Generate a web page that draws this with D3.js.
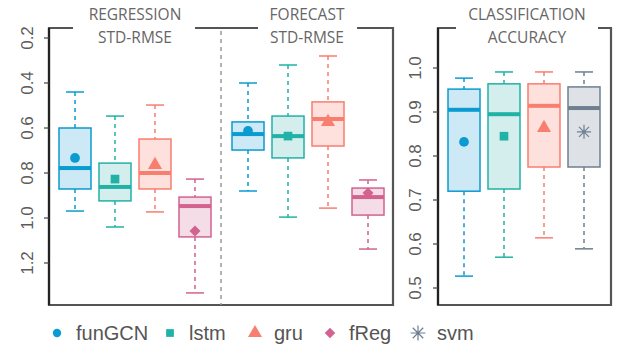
<!DOCTYPE html>
<html><head><meta charset="utf-8">
<script src="https://cdn.jsdelivr.net/npm/d3@7"></script>
<style>body{margin:0;background:#fff}svg{display:block}</style>
</head><body><svg id="c" width="619" height="350"></svg>
<script>
const methods = ["funGCN","lstm","gru","fReg","svm"];
const colors = ["#0a9bd0","#20b2a6","#f87e70","#d2628f","#6e7f90"];
const fills = ["#cce9f5","#d3eeec","#fee0dc","#f5dde7","#dee2e6"];
const shapes = ["circle","square","triangle","diamond","asterisk"];
// [lowerWhisker, q1, median, q3, upperWhisker, mean]
const regression = [
  [0.44,0.60,0.778,0.871,0.969,0.733],
  [0.547,0.756,0.862,0.924,1.04,0.827],
  [0.498,0.649,0.80,0.871,0.973,0.764],
  [0.827,0.907,0.947,1.084,1.333,1.058]
];
const forecast = [
  [0.40,0.573,0.627,0.698,0.88,0.613],
  [0.32,0.547,0.636,0.733,0.996,0.636],
  [0.28,0.484,0.56,0.68,0.956,0.573],
  [0.831,0.867,0.907,0.987,1.138,0.889]
];
const classification = [
  [0.977,0.952,0.905,0.72,0.527,0.832],
  [0.991,0.964,0.895,0.725,0.57,0.845],
  [0.991,0.964,0.914,0.775,0.614,0.864],
  [0.991,0.957,0.909,0.775,0.589,0.855]
];
const classMethods = [0,1,2,4];
const leftTicks = [0.2,0.4,0.6,0.8,1.0,1.2];
const rightTicks = [0.5,0.6,0.7,0.8,0.9,1.0];

const svg = d3.select("#c");
const yTop = 28, yBot = 305;
const yL = d3.scaleLinear().domain([0.2,1.2]).range([38,263]);
const yR = d3.scaleLinear().domain([0.5,1.0]).range([288,68]);
const xReg = d3.scalePoint().domain([0,1,2,3]).range([75,195]);
const xFor = d3.scalePoint().domain([0,1,2,3]).range([248,368]);
const xCls = d3.scalePoint().domain([0,1,2,3]).range([464,584]);
const frameCol = "#555";
const sansFont = "'Liberation Sans', Arial, sans-serif";
const titleFont = "'Open Sans', 'DejaVu Sans', sans-serif";

const symbolRDiamond = {draw(ctx,size){const r=Math.sqrt(size/2);ctx.moveTo(0,-r);ctx.lineTo(r,0);ctx.lineTo(0,r);ctx.lineTo(-r,0);ctx.closePath();}};
const symbolStar8 = {draw(ctx,size){const r=Math.sqrt(size)/2;const q=r*Math.SQRT1_2;
  ctx.moveTo(-r,0);ctx.lineTo(r,0);ctx.moveTo(0,-r);ctx.lineTo(0,r);
  ctx.moveTo(-q,-q);ctx.lineTo(q,q);ctx.moveTo(-q,q);ctx.lineTo(q,-q);}};
function symbolPath(shape, size){
  const t = {circle:d3.symbolCircle,square:d3.symbolSquare,triangle:d3.symbolTriangle,diamond:symbolRDiamond,asterisk:symbolStar8}[shape];
  return d3.symbol().type(t).size(size)();
}

function drawBoxes(data, x, y, mIdx){
  data.forEach((d,i)=>{
    const m = mIdx ? mIdx[i] : i;
    const c = colors[m], f = fills[m];
    const cx = x(i), w = 32, cap = 9;
    const sorted = d.slice(0,5).sort((a,b)=>y(a)-y(b));
    const yTopW = y(sorted[0]), yQ1 = y(sorted[1]), yMed = y(sorted[2]), yQ3 = y(sorted[3]), yBotW = y(sorted[4]);
    const g = svg.append("g");
    g.append("line").attr("x1",cx).attr("x2",cx).attr("y1",yTopW).attr("y2",yQ1)
      .attr("stroke",c).attr("stroke-width",1.5).attr("stroke-dasharray","4,4");
    g.append("line").attr("x1",cx).attr("x2",cx).attr("y1",yQ3).attr("y2",yBotW)
      .attr("stroke",c).attr("stroke-width",1.5).attr("stroke-dasharray","4,4");
    [yTopW,yBotW].forEach(v=>g.append("line").attr("x1",cx-cap).attr("x2",cx+cap).attr("y1",v).attr("y2",v)
      .attr("stroke",c).attr("stroke-width",1.5));
    g.append("rect").attr("x",cx-w/2).attr("y",yQ1).attr("width",w).attr("height",yQ3-yQ1)
      .attr("fill",f).attr("stroke",c).attr("stroke-width",1.5);
    g.append("line").attr("x1",cx-w/2).attr("x2",cx+w/2).attr("y1",yMed).attr("y2",yMed)
      .attr("stroke",c).attr("stroke-width",4);
    const sh = shapes[m];
    const p = g.append("path").attr("d",symbolPath(sh, sh==="asterisk"?200:(sh==="diamond"?60:(sh==="triangle"?85:75))))
      .attr("transform",`translate(${cx},${y(d[5])})`);
    if(sh==="asterisk") p.attr("fill","none").attr("stroke",c).attr("stroke-width",1.2);
    else p.attr("fill",c);
  });
}

// Left panel frame
svg.append("path").attr("d",`M73,${yTop}H49V${yBot}H393V${yTop}H357 M258,${yTop}H195`)
  .attr("fill","none").attr("stroke",frameCol).attr("stroke-width",2.2);
svg.append("line").attr("x1",221).attr("x2",221).attr("y1",yTop+3).attr("y2",yBot)
  .attr("stroke","#999").attr("stroke-width",1.5).attr("stroke-dasharray","4,4");

function styleAxis(ax, y, lx){
  ax.attr("font-family",null).attr("font-size",null);
  ax.select(".domain").attr("d",`M0,${yTop}V${yBot}`).attr("stroke","#222").attr("stroke-width",2.2);
  ax.selectAll(".tick").attr("transform",null);
  ax.selectAll(".tick line").attr("y1",d=>y(d)).attr("y2",d=>y(d)).attr("x2",-5).attr("stroke","#444").attr("stroke-width",1.2);
  ax.selectAll(".tick text").attr("transform",d=>`rotate(-90,${lx},${y(d)})`)
    .attr("x",lx).attr("y",d=>y(d)).attr("dy","0.35em").attr("text-anchor","middle")
    .attr("fill","#5c5c5c").style("font-size","17px").style("font-family",sansFont);
}
const axL = svg.append("g").attr("transform","translate(49,0)")
  .call(d3.axisLeft(yL).tickValues(leftTicks).tickFormat(d3.format(".1f")).tickSize(5));
styleAxis(axL, yL, -22);

// Right panel frame
svg.append("path").attr("d",`M456,${yTop}H438V${yBot}H611V${yTop}H598`)
  .attr("fill","none").attr("stroke",frameCol).attr("stroke-width",2.2);
const axR = svg.append("g").attr("transform","translate(438,0)")
  .call(d3.axisLeft(yR).tickValues(rightTicks).tickFormat(d3.format(".1f")).tickSize(5));
styleAxis(axR, yR, -23);

drawBoxes(regression, xReg, yL);
drawBoxes(forecast, xFor, yL);
drawBoxes(classification, xCls, yR, classMethods);

// Titles
const titles = [[135,"REGRESSION","STD-RMSE"],[307,"FORECAST","STD-RMSE"],[527,"CLASSIFICATION","ACCURACY"]];
titles.forEach(t=>{
  [t[1],t[2]].forEach((s,k)=>svg.append("text").attr("x",t[0]).attr("y",20+23*k).attr("text-anchor","middle")
    .attr("fill","#666").style("font-size","15.5px").style("font-family",titleFont).text(s));
});

// Legend
const legX = [57,170,255,330,418];
methods.forEach((m,i)=>{
  const sh = shapes[i];
  const p = svg.append("path").attr("d",symbolPath(sh, sh==="asterisk"?220:(sh==="diamond"?55:(sh==="triangle"?85:(sh==="square"?60:55)))))
    .attr("transform",`translate(${legX[i]},${333})`);
  if(sh==="asterisk") p.attr("fill","none").attr("stroke",colors[i]).attr("stroke-width",1.2);
  else p.attr("fill",colors[i]);
  svg.append("text").attr("x",legX[i]+19).attr("y",340).attr("fill","#555")
    .style("font-size","20px").style("font-family",sansFont).text(m);
});
</script></body></html>
